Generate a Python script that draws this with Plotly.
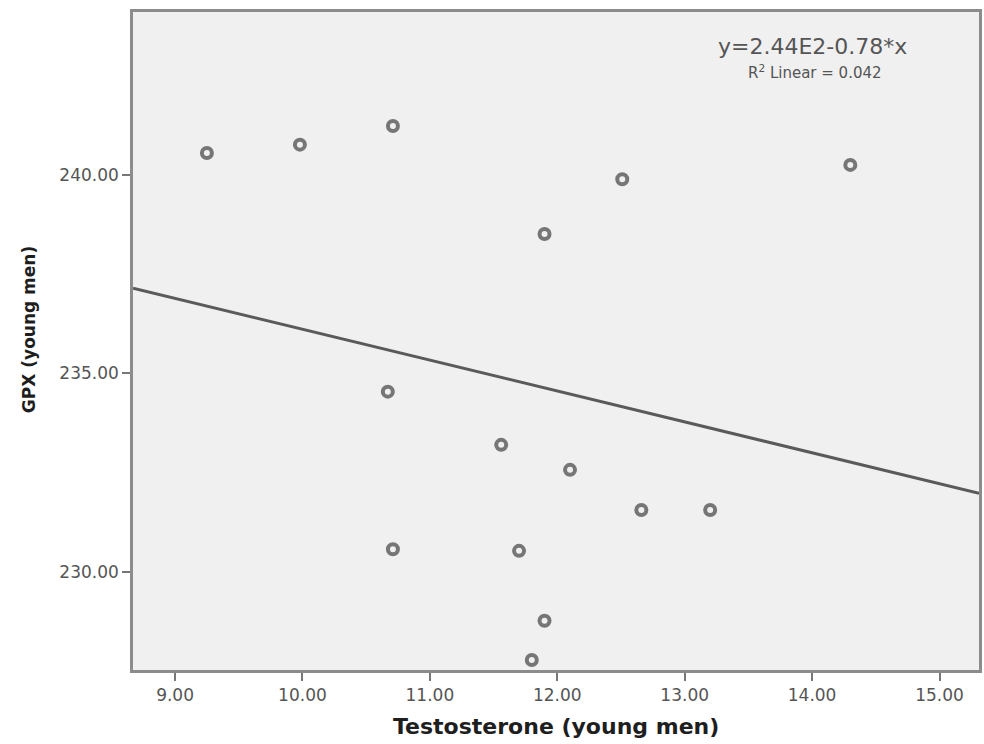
import numpy as np
import plotly.graph_objects as go

# Data
testosterone = [9.25, 9.98, 10.71, 11.90, 12.51, 14.30, 10.67, 11.56, 12.10,
                12.66, 13.20, 10.71, 11.70, 11.90, 11.80]
gpx = [240.55, 240.76, 241.23, 238.51, 239.89, 240.25, 234.54, 233.20, 232.57,
       231.56, 231.56, 230.57, 230.53, 228.77, 227.78]

x_ticks = [9, 10, 11, 12, 13, 14, 15]
y_ticks = [230, 235, 240]
x_title = "Testosterone (young men)"
y_title = "GPX (young men)"
eq_text = "y=2.44E2-0.78*x"
r2_text = "R<sup>2</sup> Linear = 0.042"

x_range = [8.67, 15.31]
y_range = [227.53, 244.10]

# Linear fit from the data
slope, intercept = np.polyfit(testosterone, gpx, 1)
fit_x = np.array(x_range)
fit_y = intercept + slope * fit_x

fig = go.Figure()
fig.add_trace(go.Scatter(
    x=fit_x, y=fit_y, mode="lines",
    line=dict(color="#5a5a5a", width=3),
    hoverinfo="skip", showlegend=False,
))
fig.add_trace(go.Scatter(
    x=testosterone, y=gpx, mode="markers",
    marker=dict(symbol="circle-open", size=10, color="#767676",
                line=dict(width=4, color="#767676")),
    showlegend=False,
))

axis_common = dict(
    showgrid=False, zeroline=False,
    showline=True, mirror=True, linecolor="#8c8c8c", linewidth=2.5,
    ticks="outside", ticklen=8, tickwidth=2, tickcolor="#777777",
    tickfont=dict(family="DejaVu Sans", size=17, color="#555555"),
    tickformat=".2f",
)

fig.update_layout(
    width=984, height=744,
    margin=dict(l=133, r=2, t=12, b=74),
    paper_bgcolor="white",
    plot_bgcolor="#f0f0f0",
    xaxis=dict(range=x_range, tickvals=x_ticks, **axis_common),
    yaxis=dict(range=y_range, tickvals=y_ticks, **axis_common),
    annotations=[
        dict(text="<b>" + x_title + "</b>", xref="paper", yref="paper",
             x=0.5, y=-0.0866, showarrow=False, xanchor="center", yanchor="middle",
             font=dict(family="DejaVu Sans", size=22, color="#1e1e1e")),
        dict(text="<b>" + y_title + "</b>", xref="paper", yref="paper",
             x=-0.1237, y=0.517, showarrow=False, xanchor="center", yanchor="middle",
             textangle=-90,
             font=dict(family="DejaVu Sans", size=17, color="#1e1e1e")),
        dict(text=eq_text, xref="paper", yref="paper",
             x=0.803, y=0.947, showarrow=False, xanchor="center", yanchor="middle",
             font=dict(family="DejaVu Sans", size=22, color="#555555")),
        dict(text=r2_text, xref="paper", yref="paper",
             x=0.806, y=0.909, showarrow=False, xanchor="center", yanchor="middle",
             font=dict(family="DejaVu Sans", size=15, color="#555555")),
    ],
)

fig.write_html("out.html")
